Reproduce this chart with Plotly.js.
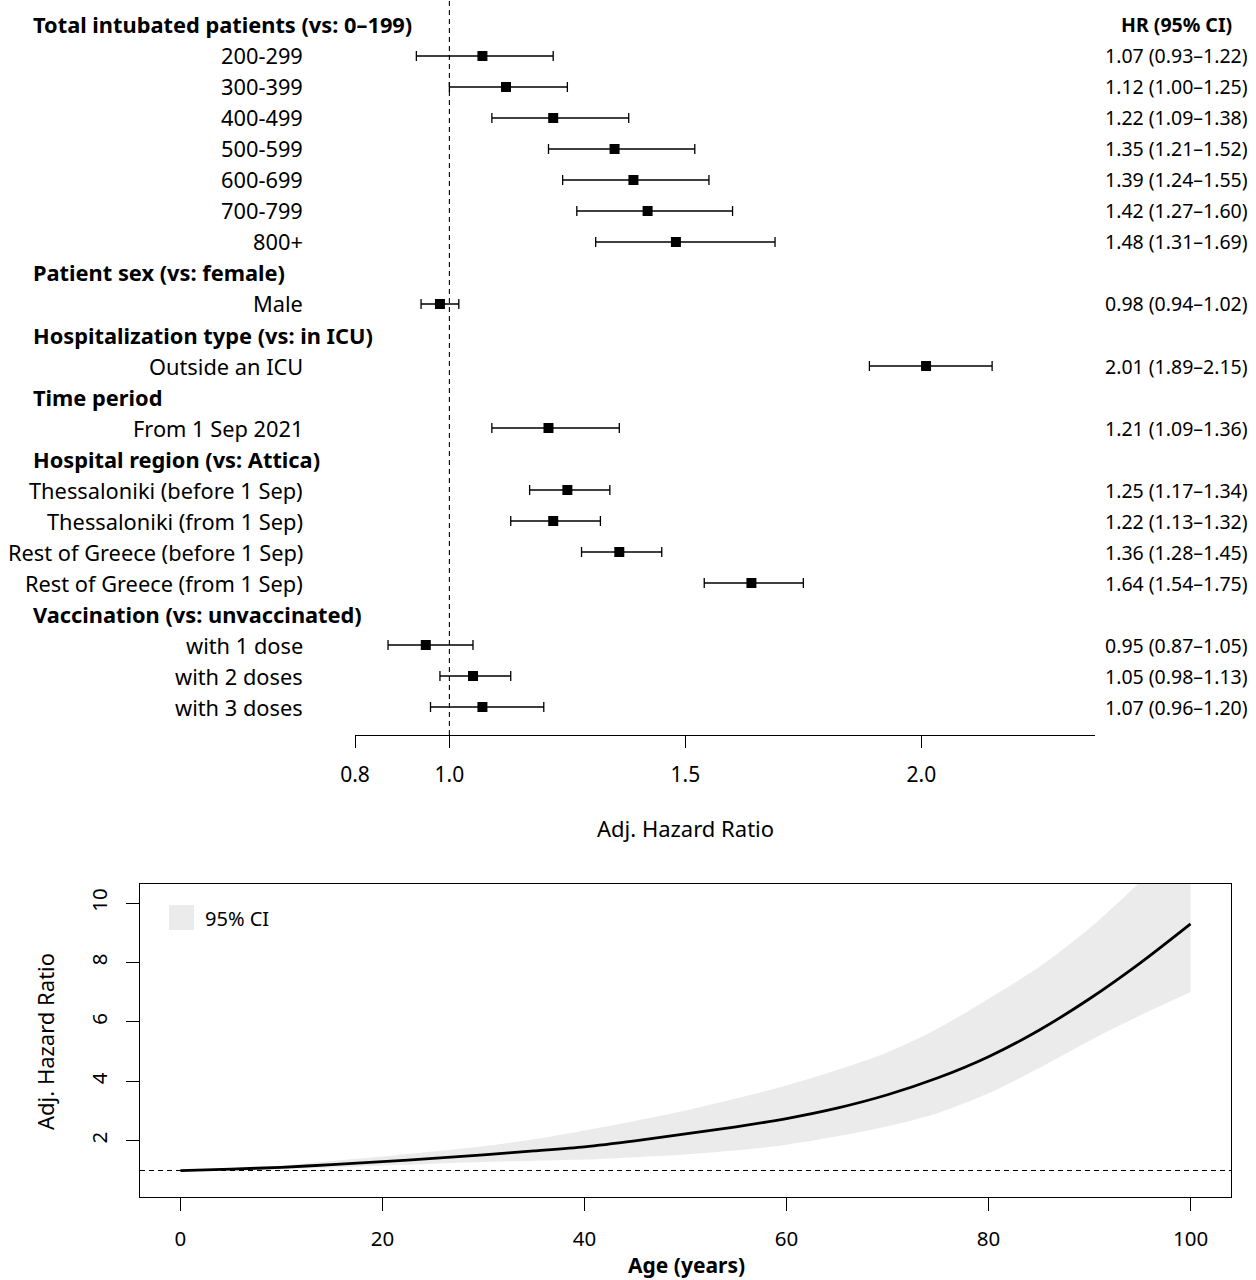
<!DOCTYPE html>
<html>
  <head>
    <meta charset="utf-8" />
    <title>Adjusted hazard ratios</title>
    <script src="https://cdn.plot.ly/plotly-3.0.1.min.js"></script>
    <style>
      body { margin: 0; padding: 0; background: white; overflow: hidden; }
      #graphDiv { width: 1256px; height: 1280px; }
    </style>
  </head>
  <body>
    <div id="graphDiv"></div>
    <script>
      // forest plot rows (top to bottom)
      const row_labels = [
        "Total intubated patients (vs: 0–199)",
        "200-299", "300-399", "400-499", "500-599", "600-699", "700-799", "800+",
        "Patient sex (vs: female)",
        "Male",
        "Hospitalization type (vs: in ICU)",
        "Outside an ICU",
        "Time period",
        "From 1 Sep 2021",
        "Hospital region (vs: Attica)",
        "Thessaloniki (before 1 Sep)",
        "Thessaloniki (from 1 Sep)",
        "Rest of Greece (before 1 Sep)",
        "Rest of Greece (from 1 Sep)",
        "Vaccination (vs: unvaccinated)",
        "with 1 dose", "with 2 doses", "with 3 doses",
      ];
      const row_is_header = [1, 0, 0, 0, 0, 0, 0, 0, 1, 0, 1, 0, 1, 0, 1, 0, 0, 0, 0, 1, 0, 0, 0];
      const hr_est = [null, 1.07, 1.12, 1.22, 1.35, 1.39, 1.42, 1.48, null, 0.98, null, 2.01, null, 1.21,
                      null, 1.25, 1.22, 1.36, 1.64, null, 0.95, 1.05, 1.07];
      const hr_low = [null, 0.93, 1.00, 1.09, 1.21, 1.24, 1.27, 1.31, null, 0.94, null, 1.89, null, 1.09,
                      null, 1.17, 1.13, 1.28, 1.54, null, 0.87, 0.98, 0.96];
      const hr_high = [null, 1.22, 1.25, 1.38, 1.52, 1.55, 1.60, 1.69, null, 1.02, null, 2.15, null, 1.36,
                       null, 1.34, 1.32, 1.45, 1.75, null, 1.05, 1.13, 1.20];
      const forest_ticks = [0.8, 1.0, 1.5, 2.0];
      const forest_tick_labels = ["0.8", "1.0", "1.5", "2.0"];

      // age curve
      const ages = [0, 5, 10, 15, 20, 25, 30, 35, 40, 45, 50, 55, 60, 65, 70, 75, 80, 85, 90, 95, 100];
      const age_hr = [1.00, 1.05, 1.11, 1.20, 1.30, 1.41, 1.53, 1.66, 1.80, 2.00, 2.23, 2.47, 2.75, 3.10,
                      3.55, 4.12, 4.83, 5.72, 6.78, 7.98, 9.30];
      const age_ci_low = [1.00, 1.02, 1.04, 1.10, 1.17, 1.23, 1.29, 1.33, 1.37, 1.45, 1.54, 1.68, 1.87, 2.15,
                          2.49, 2.94, 3.60, 4.45, 5.37, 6.22, 7.01];
      const age_ci_high = [1.00, 1.08, 1.17, 1.32, 1.47, 1.64, 1.82, 2.05, 2.35, 2.67, 3.02, 3.42, 3.86, 4.38,
                           4.98, 5.78, 6.78, 7.85, 9.15, 10.70, 12.30];
      const age_ticks = [0, 20, 40, 60, 80, 100];
      const age_hr_ticks = [2, 4, 6, 8, 10];

      const W = 1256, H = 1280;
      const FONT = "Noto Sans, sans-serif";
      const LABEL_SIZE = 21.8;
      const NUM_SIZE = 19.5;
      const px = (v) => v / W;
      const py = (v) => 1 - v / H;

      const rows = row_labels.map((_, i) => i);
      const pt_rows = rows.filter((i) => hr_est[i] !== null);

      const traces = [];

      traces.push({
        x: pt_rows.map((i) => hr_est[i]),
        y: pt_rows,
        xaxis: "x",
        yaxis: "y",
        mode: "markers",
        type: "scatter",
        marker: { symbol: "square", size: 10, color: "black" },
        error_x: {
          type: "data",
          symmetric: false,
          array: pt_rows.map((i) => hr_high[i] - hr_est[i]),
          arrayminus: pt_rows.map((i) => hr_est[i] - hr_low[i]),
          color: "black",
          thickness: 1.3,
          width: 5,
        },
        hoverinfo: "x+y",
        showlegend: false,
      });

      // CI band: upper edge, then lower edge filled up to it
      traces.push({
        x: ages,
        y: age_ci_high,
        xaxis: "x2",
        yaxis: "y2",
        mode: "lines",
        type: "scatter",
        line: { width: 0, color: "#ebebeb", shape: "spline", smoothing: 0.8 },
        hoverinfo: "skip",
        showlegend: false,
      });
      traces.push({
        x: ages,
        y: age_ci_low,
        xaxis: "x2",
        yaxis: "y2",
        mode: "lines",
        type: "scatter",
        fill: "tonexty",
        fillcolor: "#ebebeb",
        line: { width: 0, color: "#ebebeb", shape: "spline", smoothing: 0.8 },
        hoverinfo: "skip",
        showlegend: false,
      });

      traces.push({
        x: ages,
        y: age_hr,
        xaxis: "x2",
        yaxis: "y2",
        mode: "lines",
        type: "scatter",
        line: { width: 2.8, color: "black", shape: "spline", smoothing: 0.8 },
        showlegend: false,
      });

      const annotations = [];
      rows.forEach((i) => {
        if (row_is_header[i]) {
          annotations.push({
            xref: "paper", yref: "y", x: px(31), y: i, xanchor: "left", yanchor: "middle",
            text: "<b>" + row_labels[i] + "</b>", showarrow: false,
            font: { family: FONT, size: LABEL_SIZE, color: "black" },
          });
        } else {
          annotations.push({
            xref: "paper", yref: "y", x: px(305), y: i, xanchor: "right", yanchor: "middle",
            text: row_labels[i], showarrow: false,
            font: { family: FONT, size: LABEL_SIZE, color: "black" },
          });
          annotations.push({
            xref: "paper", yref: "y", x: px(1176), y: i, xanchor: "center", yanchor: "middle",
            text: hr_est[i].toFixed(2) + " (" + hr_low[i].toFixed(2) + "–" + hr_high[i].toFixed(2) + ")",
            showarrow: false,
            font: { family: FONT, size: NUM_SIZE, color: "black" },
          });
        }
      });
      annotations.push({
        xref: "paper", yref: "y", x: px(1176), y: 0, xanchor: "center", yanchor: "middle",
        text: "<b>HR (95% CI)</b>", showarrow: false,
        font: { family: FONT, size: NUM_SIZE, color: "black" },
      });
      annotations.push({
        xref: "x", yref: "paper", x: 1.5, y: py(828), xanchor: "center", yanchor: "middle",
        text: "Adj. Hazard Ratio", showarrow: false,
        font: { family: FONT, size: 22, color: "black" },
      });
      annotations.push({
        xref: "paper", yref: "paper", x: px(45), y: py(1042), xanchor: "center", yanchor: "middle",
        text: "Adj. Hazard Ratio", textangle: -90, showarrow: false,
        font: { family: FONT, size: 22, color: "black" },
      });
      annotations.push({
        xref: "paper", yref: "paper", x: px(686), y: py(1265), xanchor: "center", yanchor: "middle",
        text: "<b>Age (years)</b>", showarrow: false,
        font: { family: FONT, size: 21, color: "black" },
      });
      annotations.push({
        xref: "paper", yref: "paper", x: px(203), y: py(918), xanchor: "left", yanchor: "middle",
        text: "95% CI", showarrow: false,
        font: { family: FONT, size: 20, color: "black" },
      });

      const shapes = [
        {
          type: "line", xref: "x", yref: "y domain", x0: 1, x1: 1, y0: 0, y1: 1,
          line: { color: "black", width: 1.1, dash: "5px,4px" },
        },
        {
          type: "line", xref: "x2 domain", yref: "y2", x0: 0, x1: 1, y0: 1, y1: 1,
          line: { color: "black", width: 1.1, dash: "5px,4px" },
        },
        {
          type: "rect", xref: "paper", yref: "paper",
          x0: px(169), x1: px(194), y0: py(930), y1: py(905),
          fillcolor: "#ebebeb", line: { width: 0 },
        },
      ];

      const layout = {
        width: W,
        height: H,
        margin: { l: 0, r: 0, t: 0, b: 0 },
        paper_bgcolor: "white",
        plot_bgcolor: "white",
        showlegend: false,
        font: { family: FONT, size: 20, color: "black" },
        xaxis: {
          domain: [px(355), px(1095)],
          range: [0.8, 2.368],
          anchor: "y",
          showgrid: false,
          zeroline: false,
          showline: true,
          linecolor: "black",
          linewidth: 1.2,
          ticks: "outside",
          ticklen: 12,
          tickwidth: 1.2,
          tickcolor: "black",
          tickvals: forest_ticks,
          ticktext: forest_tick_labels,
          ticklabelstandoff: 9,
          tickfont: { family: FONT, size: 21 },
        },
        yaxis: {
          domain: [py(735), 1],
          range: [22.903, -0.806],
          anchor: "x",
          showgrid: false,
          zeroline: false,
          showline: false,
          showticklabels: false,
          ticks: "",
        },
        xaxis2: {
          domain: [px(140), px(1231)],
          range: [-4, 104],
          anchor: "y2",
          showgrid: false,
          zeroline: false,
          showline: true,
          mirror: true,
          linecolor: "black",
          linewidth: 1.3,
          ticks: "outside",
          ticklen: 13,
          tickwidth: 1.2,
          tickcolor: "black",
          tickvals: age_ticks,
          ticklabelstandoff: 10,
          tickfont: { family: FONT, size: 20.5 },
        },
        yaxis2: {
          domain: [py(1197), py(884)],
          range: [0.11, 10.64],
          anchor: "x2",
          showgrid: false,
          zeroline: false,
          showline: true,
          mirror: true,
          linecolor: "black",
          linewidth: 1.3,
          ticks: "outside",
          ticklen: 13,
          tickwidth: 1.2,
          tickcolor: "black",
          tickvals: age_hr_ticks,
          tickangle: -90,
          ticklabelstandoff: 11,
          tickfont: { family: FONT, size: 20.5 },
        },
        shapes: shapes,
        annotations: annotations,
      };

      Plotly.newPlot("graphDiv", traces, layout, { displayModeBar: false, responsive: false });
    </script>
  </body>
</html>
